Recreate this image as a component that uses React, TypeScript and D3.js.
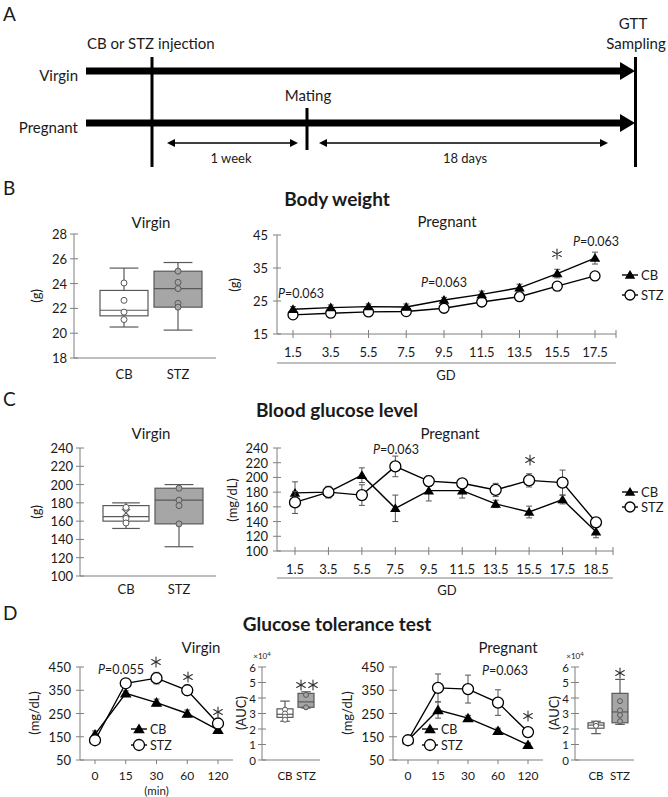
import React from "react";
import * as d3 from "d3";

// ---------------- data ----------------
const gdBW = ["1.5", "3.5", "5.5", "7.5", "9.5", "11.5", "13.5", "15.5", "17.5"];
const bwPregCB = [22.5, 23.0, 23.3, 23.2, 25.3, 27.0, 29.0, 33.3, 38.0];
const bwPregCBErr = [0.8, 0.8, 0.8, 0.9, 0.8, 1.0, 1.1, 1.3, 1.8];
const bwPregSTZ = [20.8, 21.3, 21.7, 21.8, 22.8, 24.7, 26.3, 29.5, 32.6];
const bwPregSTZErr = [0.4, 0.4, 0.4, 0.4, 0.5, 0.5, 0.6, 0.6, 0.7];
const bwPregTicks = [15, 25, 35, 45];

const bwVirginTicks = [18, 20, 22, 24, 26, 28];
const bwVirginCB = [20.5, 21.4, 21.85, 23.45, 25.25];
const bwVirginCBPts = [24.05, 22.65, 21.7, 21.1];
const bwVirginSTZ = [20.25, 22.1, 23.6, 25.0, 25.7];
const bwVirginSTZPts = [25.0, 24.1, 23.6, 22.4, 22.1];

const gdBG = ["1.5", "3.5", "5.5", "7.5", "9.5", "11.5", "13.5", "15.5", "17.5", "18.5"];
const bgPregCB = [179, 180, 203, 158, 182, 182, 164, 153, 170, 126];
const bgPregCBErr = [15, 7, 10, 18, 14, 10, 5, 8, 6, 8];
const bgPregSTZ = [166, 180, 176, 215, 195, 192, 183, 196, 193, 139];
const bgPregSTZErr = [15, 8, 14, 14, 7, 5, 9, 9, 17, 6];
const bgTicks = [100, 120, 140, 160, 180, 200, 220, 240];

const bgVirginCB = [152, 160, 165, 177, 180];
const bgVirginCBPts = [175, 163, 158];
const bgVirginCBMean = 169;
const bgVirginSTZ = [132, 157, 183, 196, 200];
const bgVirginSTZPts = [196, 183, 177, 157];

const gttTimes = ["0", "15", "30", "60", "120"];
const gttTicks = [50, 150, 250, 350, 450];
const gttVirginCB = [160, 337, 297, 250, 180];
const gttVirginCBErr = [15, 10, 15, 15, 10];
const gttVirginSTZ = [135, 380, 402, 350, 207];
const gttVirginSTZErr = [10, 8, 25, 22, 12];
const gttPregCB = [135, 265, 230, 175, 115];
const gttPregCBErr = [8, 35, 12, 12, 8];
const gttPregSTZ = [135, 360, 355, 297, 170];
const gttPregSTZErr = [8, 60, 60, 55, 15];

const aucTicks = [0, 1, 2, 3, 4, 5, 6];
const aucVirginCB = [2.5, 2.75, 2.95, 3.3, 3.8];
const aucVirginCBPts = [3.25, 3.0, 2.8, 2.6];
const aucVirginSTZ = [3.35, 3.4, 3.75, 4.3, 4.4];
const aucVirginSTZPts = [4.2, 3.4];
const aucPregCB = [1.7, 2.05, 2.25, 2.4, 2.5];
const aucPregCBPts = [2.35, 2.2];
const aucPregSTZ = [2.3, 2.4, 3.1, 4.3, 5.2];
const aucPregSTZPts = [3.8, 3.2, 2.9, 2.5];

const groups = ["CB", "STZ"];

// ---------------- styles ----------------
const FONT = "Lato, 'Open Sans', 'DejaVu Sans', sans-serif";
const TXT = "#1a1a1a";
const AX = "#7f7f7f";
const BOXS = "#595959";
const BOXF = "#a6a6a6";
const ERR = "#555";

type Sc = d3.ScaleLinear<number, number>;

function YAxis({ x, y, ticks, labelOff = 7, fs = 13 }: { x: number; y: Sc; ticks: number[]; labelOff?: number; fs?: number }) {
  const [a, b] = y.domain();
  return (
    <g>
      <line x1={x} x2={x} y1={y(a)} y2={y(b)} stroke={AX} strokeWidth={1} />
      {ticks.map((t) => (
        <g key={t}>
          <line x1={x - 4} x2={x + 4} y1={y(t)} y2={y(t)} stroke={AX} strokeWidth={1} />
          <text x={x - labelOff} y={y(t)} textAnchor="end" dominantBaseline="central" fontSize={fs} fill={TXT}>
            {t}
          </text>
        </g>
      ))}
    </g>
  );
}

function Tri({ x, y, s = 5 }: { x: number; y: number; s?: number }) {
  return <path d={`M${x},${y - s} L${x + s * 1.05},${y + s * 0.75} L${x - s * 1.05},${y + s * 0.75} Z`} fill="#000" />;
}

function Series({ xs, vals, errs, y, kind, r = 5 }: { xs: number[]; vals: number[]; errs: number[]; y: Sc; kind: "tri" | "circ"; r?: number }) {
  const pts = vals.map((v, i) => [xs[i], y(v)] as [number, number]);
  const line = d3.line()(pts) || "";
  return (
    <g>
      {vals.map((v, i) => (
        <g key={i} stroke={ERR} strokeWidth={1}>
          <line x1={xs[i]} x2={xs[i]} y1={y(v + errs[i])} y2={y(v - errs[i])} />
          <line x1={xs[i] - 3} x2={xs[i] + 3} y1={y(v + errs[i])} y2={y(v + errs[i])} />
          <line x1={xs[i] - 3} x2={xs[i] + 3} y1={y(v - errs[i])} y2={y(v - errs[i])} />
        </g>
      ))}
      <path d={line} fill="none" stroke="#000" strokeWidth={1.4} />
      {pts.map(([px, py], i) =>
        kind === "tri" ? <Tri key={i} x={px} y={py} s={r} /> : <circle key={i} cx={px} cy={py} r={r} fill="#fff" stroke="#000" strokeWidth={1.3} />
      )}
    </g>
  );
}

function Box({ cx, w, stats, pts, y, fill, pr = 3, mean }: { cx: number; w: number; stats: number[]; pts: number[]; y: Sc; fill: string; pr?: number; mean?: number }) {
  const [mn, q1, md, q3, mx] = stats;
  const cap = w * 0.3;
  return (
    <g stroke={BOXS} strokeWidth={1.2}>
      <line x1={cx} x2={cx} y1={y(mx)} y2={y(q3)} />
      <line x1={cx} x2={cx} y1={y(q1)} y2={y(mn)} />
      <line x1={cx - cap} x2={cx + cap} y1={y(mx)} y2={y(mx)} />
      <line x1={cx - cap} x2={cx + cap} y1={y(mn)} y2={y(mn)} />
      <rect x={cx - w / 2} y={y(q3)} width={w} height={y(q1) - y(q3)} fill={fill} />
      <line x1={cx - w / 2} x2={cx + w / 2} y1={y(md)} y2={y(md)} />
      {pts.map((p, i) => (
        <circle key={i} cx={cx} cy={y(p)} r={pr} fill={fill} strokeWidth={1} />
      ))}
      {mean !== undefined && (
        <path d={`M${cx - 4},${y(mean) - 4} L${cx + 4},${y(mean) + 4} M${cx - 4},${y(mean) + 4} L${cx + 4},${y(mean) - 4}`} strokeWidth={1.2} />
      )}
    </g>
  );
}

function RotLabel({ x, y, text, fs = 13 }: { x: number; y: number; text: string; fs?: number }) {
  return (
    <text transform={`translate(${x},${y}) rotate(-90)`} textAnchor="middle" dominantBaseline="central" fontSize={fs} fill={TXT}>
      {text}
    </text>
  );
}

function PVal({ x, y, v, fs = 12.5 }: { x: number; y: number; v: string; fs?: number }) {
  return (
    <text x={x} y={y} textAnchor="middle" dominantBaseline="central" fontSize={fs} fill={TXT}>
      <tspan fontStyle="italic">P</tspan>={v}
    </text>
  );
}

// asterisk drawn as a 6-arm path
function Star({ x, y, n = 1, r = 5 }: { x: number; y: number; n?: number; r?: number }) {
  const gap = r * 2.4;
  const centers = d3.range(n).map((i) => x + (i - (n - 1) / 2) * gap);
  const arms = [90, 30, 150].map((a) => (a * Math.PI) / 180);
  return (
    <g stroke="#333" strokeWidth={1.1} strokeLinecap="round">
      {centers.map((cx, k) => (
        <path
          key={k}
          d={arms
            .map((a) => `M${cx + r * Math.cos(a)},${y - r * Math.sin(a)} L${cx - r * Math.cos(a)},${y + r * Math.sin(a)}`)
            .join(" ")}
        />
      ))}
    </g>
  );
}

function Legend({ x, y1, y2, r = 5, fs = 13 }: { x: number; y1: number; y2: number; r?: number; fs?: number }) {
  return (
    <g>
      <line x1={x} x2={x + 16} y1={y1} y2={y1} stroke="#000" strokeWidth={1.4} />
      <Tri x={x + 8} y={y1} s={r} />
      <text x={x + 19} y={y1} dominantBaseline="central" fontSize={fs} fill={TXT}>CB</text>
      <line x1={x} x2={x + 16} y1={y2} y2={y2} stroke="#000" strokeWidth={1.4} />
      <circle cx={x + 8} cy={y2} r={r} fill="#fff" stroke="#000" strokeWidth={1.3} />
      <text x={x + 19} y={y2} dominantBaseline="central" fontSize={fs} fill={TXT}>STZ</text>
    </g>
  );
}

function PanelA() {
  const arrow = (yc: number) => (
    <g>
      <rect x={86} y={yc - 3.5} width={536} height={7} fill="#000" />
      <path d={`M620,${yc - 9} L635,${yc} L620,${yc + 9} Z`} fill="#000" />
    </g>
  );
  const dbl = (x1: number, x2: number, yc: number) => (
    <g>
      <line x1={x1 + 5} x2={x2 - 5} y1={yc} y2={yc} stroke="#000" strokeWidth={1.5} />
      <path d={`M${x1},${yc} L${x1 + 8},${yc - 4} L${x1 + 8},${yc + 4} Z`} fill="#000" />
      <path d={`M${x2},${yc} L${x2 - 8},${yc - 4} L${x2 - 8},${yc + 4} Z`} fill="#000" />
    </g>
  );
  return (
    <g fill={TXT}>
      <text x={3} y={13} dominantBaseline="central" fontSize={19}>A</text>
      <text x={87} y={43} dominantBaseline="central" fontSize={15}>CB or STZ injection</text>
      <text x={633} y={23} textAnchor="middle" dominantBaseline="central" fontSize={15}>GTT</text>
      <text x={636} y={43} textAnchor="middle" dominantBaseline="central" fontSize={15}>Sampling</text>
      <text x={78} y={75} textAnchor="end" dominantBaseline="central" fontSize={15}>Virgin</text>
      <text x={78} y={127} textAnchor="end" dominantBaseline="central" fontSize={15}>Pregnant</text>
      <text x={308} y={95} textAnchor="middle" dominantBaseline="central" fontSize={15}>Mating</text>
      {arrow(71)}
      {arrow(123)}
      <rect x={150.5} y={57} width={3} height={110} fill="#000" />
      <rect x={634} y={57} width={3} height={110} fill="#000" />
      <rect x={305.5} y={108} width={3} height={42} fill="#000" />
      {dbl(167, 298, 143)}
      {dbl(319, 608, 143)}
      <text x={231} y={158} textAnchor="middle" dominantBaseline="central" fontSize={13}>1 week</text>
      <text x={465} y={158} textAnchor="middle" dominantBaseline="central" fontSize={13}>18 days</text>
    </g>
  );
}

function PanelB() {
  const vy = d3.scaleLinear().domain([18, 28]).range([358, 234]);
  const vx = d3.scalePoint<string>().domain(groups).range([124, 178]);
  const px = d3.scalePoint<string>().domain(gdBW).range([293, 595]);
  const py = d3.scaleLinear().domain([15, 45]).range([334, 235]);
  const xs = gdBW.map((g) => px(g) as number);
  return (
    <g>
      <text x={3} y={187} dominantBaseline="central" fontSize={19} fill={TXT}>B</text>
      <text x={337} y={198} textAnchor="middle" dominantBaseline="central" fontSize={19} fontWeight="bold" fill={TXT}>Body weight</text>
      <text x={151} y={222} textAnchor="middle" dominantBaseline="central" fontSize={15} fill={TXT}>Virgin</text>
      <text x={447} y={221} textAnchor="middle" dominantBaseline="central" fontSize={15} fill={TXT}>Pregnant</text>
      <YAxis x={74} y={vy} ticks={bwVirginTicks} />
      <line x1={74} x2={216} y1={358} y2={358} stroke={AX} />
      <Box cx={vx("CB") as number} w={48} stats={bwVirginCB} pts={bwVirginCBPts} y={vy} fill="#fff" />
      <Box cx={vx("STZ") as number} w={48} stats={bwVirginSTZ} pts={bwVirginSTZPts} y={vy} fill={BOXF} />
      {groups.map((g) => (
        <text key={g} x={vx(g) as number} y={374} textAnchor="middle" dominantBaseline="central" fontSize={13} fill={TXT}>{g}</text>
      ))}
      <RotLabel x={36} y={296} text="(g)" />
      <YAxis x={277} y={py} ticks={bwPregTicks} labelOff={9} />
      <line x1={277} x2={616} y1={334} y2={334} stroke={AX} />
      {[...xs, 616].map((x, i) => (
        <line key={i} x1={x} x2={x} y1={330} y2={338} stroke={AX} />
      ))}
      {gdBW.map((g) => (
        <text key={g} x={px(g) as number} y={352} textAnchor="middle" dominantBaseline="central" fontSize={13} fill={TXT}>{g}</text>
      ))}
      <line x1={277} x2={616} y1={363} y2={363} stroke={AX} />
      <text x={446} y={375} textAnchor="middle" dominantBaseline="central" fontSize={13} fill={TXT}>GD</text>
      <RotLabel x={234} y={285} text="(g)" />
      <Series xs={xs} vals={bwPregSTZ} errs={bwPregSTZErr} y={py} kind="circ" r={5} />
      <Series xs={xs} vals={bwPregCB} errs={bwPregCBErr} y={py} kind="tri" r={5} />
      <PVal x={301} y={293} v="0.063" />
      <PVal x={444} y={282} v="0.063" />
      <PVal x={596} y={241} v="0.063" />
      <Star x={557} y={254} />
      <Legend x={622} y1={275} y2={295} />
    </g>
  );
}

function PanelC() {
  const vy = d3.scaleLinear().domain([100, 240]).range([576, 448]);
  const vx = d3.scalePoint<string>().domain(groups).range([126, 179]);
  const px = d3.scalePoint<string>().domain(gdBG).range([295, 596]);
  const py = d3.scaleLinear().domain([100, 240]).range([551, 448]);
  const xs = gdBG.map((g) => px(g) as number);
  return (
    <g>
      <text x={3} y={398} dominantBaseline="central" fontSize={19} fill={TXT}>C</text>
      <text x={337} y={409} textAnchor="middle" dominantBaseline="central" fontSize={19} fontWeight="bold" fill={TXT}>Blood glucose level</text>
      <text x={151} y={433} textAnchor="middle" dominantBaseline="central" fontSize={15} fill={TXT}>Virgin</text>
      <text x={450} y={433} textAnchor="middle" dominantBaseline="central" fontSize={15} fill={TXT}>Pregnant</text>
      <YAxis x={80} y={vy} ticks={bgTicks} />
      <line x1={80} x2={216} y1={576} y2={576} stroke={AX} />
      <Box cx={vx("CB") as number} w={46} stats={bgVirginCB} pts={bgVirginCBPts} y={vy} fill="#fff" mean={bgVirginCBMean} />
      <Box cx={vx("STZ") as number} w={48} stats={bgVirginSTZ} pts={bgVirginSTZPts} y={vy} fill={BOXF} />
      {groups.map((g) => (
        <text key={g} x={vx(g) as number} y={589} textAnchor="middle" dominantBaseline="central" fontSize={13} fill={TXT}>{g}</text>
      ))}
      <RotLabel x={36} y={512} text="(g)" />
      <YAxis x={277} y={py} ticks={bgTicks} labelOff={9} />
      <line x1={277} x2={613} y1={551} y2={551} stroke={AX} />
      {[...xs, 613].map((x, i) => (
        <line key={i} x1={x} x2={x} y1={547} y2={555} stroke={AX} />
      ))}
      {gdBG.map((g) => (
        <text key={g} x={px(g) as number} y={569} textAnchor="middle" dominantBaseline="central" fontSize={13} fill={TXT}>{g}</text>
      ))}
      <line x1={277} x2={613} y1={578} y2={578} stroke={AX} />
      <text x={447} y={590} textAnchor="middle" dominantBaseline="central" fontSize={13} fill={TXT}>GD</text>
      <RotLabel x={232} y={500} text="(mg/dL)" />
      <Series xs={xs} vals={bgPregCB} errs={bgPregCBErr} y={py} kind="tri" r={5} />
      <Series xs={xs} vals={bgPregSTZ} errs={bgPregSTZErr} y={py} kind="circ" r={5.5} />
      <PVal x={396} y={449} v="0.063" />
      <Star x={530} y={460} />
      <Legend x={622} y1={492} y2={507} />
    </g>
  );
}

function GTT({ ax, x0, x1, cb, cbE, stz, stzE, title, tx, legX, minLabel }: any) {
  const y = d3.scaleLinear().domain([50, 450]).range([760, 667]);
  const x = d3.scalePoint<string>().domain(gttTimes).range([x0, x1]);
  const xs = gttTimes.map((t) => x(t) as number);
  return (
    <g>
      <text x={tx} y={647} textAnchor="middle" dominantBaseline="central" fontSize={15} fill={TXT}>{title}</text>
      <YAxis x={ax} y={y} ticks={gttTicks} labelOff={9} />
      <line x1={ax} x2={x1 + 15} y1={760} y2={760} stroke={AX} />
      {xs.map((xx, i) => (
        <line key={i} x1={xx} x2={xx} y1={760} y2={764} stroke={AX} />
      ))}
      {gttTimes.map((t) => (
        <text key={t} x={x(t) as number} y={775} textAnchor="middle" dominantBaseline="central" fontSize={12} fill={TXT}>{t}</text>
      ))}
      {minLabel && <text x={xs[2]} y={790} textAnchor="middle" dominantBaseline="central" fontSize={11.5} fill={TXT}>(min)</text>}
      <RotLabel x={ax - 46} y={713} text="(mg/dL)" fs={13} />
      <Series xs={xs} vals={cb} errs={cbE} y={y} kind="tri" r={5.5} />
      <Series xs={xs} vals={stz} errs={stzE} y={y} kind="circ" r={5.5} />
      <Legend x={legX} y1={729} y2={745} r={5.5} fs={12.5} />
    </g>
  );
}

function AUC({ ax, cbx, stzx, cb, cbP, stz, stzP }: any) {
  const y = d3.scaleLinear().domain([0, 6]).range([760, 667]);
  return (
    <g>
      <text x={ax} y={656} textAnchor="middle" dominantBaseline="central" fontSize={8} fill={TXT}>
        ×10<tspan dy={-3} fontSize={6}>4</tspan>
      </text>
      <YAxis x={ax} y={y} ticks={aucTicks} labelOff={6} fs={11.5} />
      <line x1={ax} x2={stzx + 14} y1={760} y2={760} stroke={AX} />
      <Box cx={cbx} w={16} stats={cb} pts={cbP} y={y} fill="#fff" pr={2.5} />
      <Box cx={stzx} w={16} stats={stz} pts={stzP} y={y} fill={BOXF} pr={2.5} />
      <text x={cbx} y={775} textAnchor="middle" dominantBaseline="central" fontSize={11.5} fill={TXT}>CB</text>
      <text x={stzx} y={775} textAnchor="middle" dominantBaseline="central" fontSize={11.5} fill={TXT}>STZ</text>
      <RotLabel x={ax - 21} y={713} text="(AUC)" fs={13} />
    </g>
  );
}

function PanelD() {
  return (
    <g>
      <text x={3} y={612} dominantBaseline="central" fontSize={19} fill={TXT}>D</text>
      <text x={337} y={623} textAnchor="middle" dominantBaseline="central" fontSize={19} fontWeight="bold" fill={TXT}>Glucose tolerance test</text>
      <GTT ax={80} x0={95} x1={218} cb={gttVirginCB} cbE={gttVirginCBErr} stz={gttVirginSTZ} stzE={gttVirginSTZErr} title="Virgin" tx={201} legX={131} minLabel />
      <PVal x={121} y={669} v="0.055" />
      <Star x={156} y={662} />
      <Star x={188} y={677} />
      <Star x={218} y={712} />
      <AUC ax={262} cbx={285} stzx={306} cb={aucVirginCB} cbP={aucVirginCBPts} stz={aucVirginSTZ} stzP={aucVirginSTZPts} />
      <Star x={307} y={685} n={2} />
      <GTT ax={393} x0={408} x1={528} cb={gttPregCB} cbE={gttPregCBErr} stz={gttPregSTZ} stzE={gttPregSTZErr} title="Pregnant" tx={508} legX={422} />
      <PVal x={505} y={670} v="0.063" />
      <Star x={528} y={716} />
      <AUC ax={575} cbx={596} stzx={620} cb={aucPregCB} cbP={aucPregCBPts} stz={aucPregSTZ} stzP={aucPregSTZPts} />
      <Star x={620} y={673} />
    </g>
  );
}

export default function App() {
  return (
    <div style={{ position: "absolute", left: 0, top: 0 }}>
      <svg width={668} height={797} viewBox="0 0 668 797" style={{ display: "block", background: "#fff", fontFamily: FONT }}>
        <rect width={668} height={797} fill="#fff" />
        <PanelA />
        <PanelB />
        <PanelC />
        <PanelD />
      </svg>
    </div>
  );
}
